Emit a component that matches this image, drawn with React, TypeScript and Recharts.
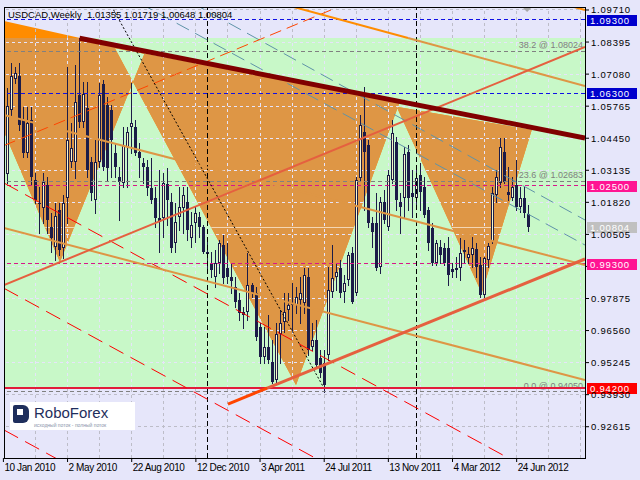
import React from 'react';
import { ComposedChart, XAxis, YAxis, Bar, Scatter, ReferenceLine, ReferenceArea, ReferenceDot } from 'recharts';

// ---------------- data ----------------
const OPEN = [1.0312,1.0298,1.0561,1.0687,1.07,1.052,1.0386,1.052,1.0274,1.018,1.0157,1.0253,1.0082,1.0,1.0151,0.9993,1.0198,1.0349,1.0349,1.0622,1.0513,1.0568,1.0349,1.0192,1.0349,1.0667,1.0581,1.0561,1.0383,1.0287,1.026,1.041,1.0492,1.0492,1.039,1.0342,1.0328,1.0239,1.0198,1.0116,1.0116,1.0257,1.0185,1.0014,1.0123,1.0157,1.0185,1.0034,1.0096,1.0123,1.0082,0.998,0.9932,0.9877,0.9932,1.0007,0.9911,0.9877,0.9836,0.9781,0.9733,0.9733,0.9843,0.9809,0.9672,0.9549,0.959,0.9528,0.9453,0.964,0.9692,0.974,0.9761,0.9761,0.9781,0.9768,0.9877,0.959,0.9617,0.9542,0.9522,0.9556,0.9815,0.9877,0.9911,0.9815,0.9863,0.9973,0.9809,1.028,1.0472,1.0417,1.0096,1.0096,0.9918,1.0185,1.0082,1.0274,1.0431,1.0185,1.0198,1.039,1.0222,1.0198,1.0294,1.0246,1.0151,1.0075,0.9932,1.0,0.9993,0.9993,0.9907,0.9904,0.9911,0.9986,0.9955,0.9966,0.9989,0.9925,0.9802,0.9945,1.0021,1.0212,1.026,1.039,1.0226,1.0198,1.0253,1.0164,1.0198,1.01355];
const HIGH = [1.0342,1.065,1.0752,1.0739,1.0752,1.0574,1.0574,1.0574,1.0301,1.0246,1.0301,1.0287,1.0137,1.0178,1.0178,1.0212,1.0739,1.0506,1.0745,1.0855,1.0677,1.0677,1.0369,1.0438,1.067,1.0684,1.0615,1.0581,1.0424,1.0328,1.0492,1.0492,1.067,1.052,1.0424,1.0362,1.0356,1.0362,1.0246,1.0315,1.0301,1.0321,1.0219,1.0178,1.0246,1.0246,1.0246,1.0144,1.0164,1.0144,1.009,1.0027,0.998,0.9986,1.0027,1.0048,1.0014,0.9932,0.9877,0.9809,0.9754,0.9973,0.985,0.9836,0.9686,0.9672,0.972,0.9617,0.9686,0.974,0.9809,0.9809,0.985,0.9836,0.9877,0.9911,0.9911,0.9686,0.9699,0.9576,0.9576,0.9918,1.0007,0.9932,0.9945,0.9884,0.998,1.0,1.0287,1.054,1.0656,1.0438,1.0123,1.0219,1.0205,1.0233,1.0315,1.052,1.0451,1.0219,1.041,1.0417,1.0315,1.0315,1.0342,1.0287,1.0164,1.0096,1.0027,1.0027,1.0014,1.0041,0.9932,0.9959,1.0034,1.0027,1.0,1.0041,1.0014,0.9959,0.9959,1.0014,1.0246,1.0315,1.0444,1.0444,1.0328,1.0287,1.0356,1.0246,1.0246,1.01719];
const LOW = [1.026,1.026,1.054,1.067,1.0479,1.0369,1.0369,1.0257,1.0178,1.0055,1.0096,1.0055,0.998,0.9945,0.9966,0.9952,1.0096,1.0328,1.028,1.0492,1.0492,1.0287,1.0192,1.0137,1.0328,1.0315,1.0274,1.0287,1.0287,1.0109,1.0246,1.0246,1.0383,1.0376,1.0287,1.026,1.0212,1.0178,1.0082,0.998,1.0041,1.0089,0.998,0.998,1.0068,1.0055,1.0027,1.0,1.0021,1.0041,0.9973,0.9904,0.9877,0.9836,0.9891,0.985,0.985,0.9809,0.9754,0.9699,0.9665,0.9699,0.9795,0.9617,0.9522,0.9522,0.9522,0.9439,0.9439,0.9522,0.9651,0.9699,0.9658,0.9727,0.9686,0.9727,0.9556,0.9576,0.9508,0.9467,0.9405,0.9535,0.9795,0.9822,0.9795,0.9774,0.9843,0.977,0.9802,1.0274,1.0151,1.0082,1.0,0.9904,0.9891,1.0096,1.0068,1.026,1.0151,1.0055,1.0123,1.0151,1.0123,1.0164,1.0151,1.0123,0.9986,0.9925,0.9925,0.9932,0.9925,0.9843,0.9877,0.9877,0.9863,0.9932,0.9932,0.9918,0.9877,0.9795,0.9795,0.9918,1.0014,1.0185,1.0246,1.026,1.0192,1.0192,1.0151,1.0144,1.0123,1.00648];
const CLOSE = [1.0287,1.0577,1.07,1.0714,1.0499,1.0386,1.0509,1.0287,1.0192,1.0175,1.0267,1.0109,1.0034,1.0126,0.9986,1.0178,1.0438,1.0403,1.0595,1.0513,1.0626,1.0315,1.0219,1.0349,1.0622,1.0328,1.0321,1.0438,1.0328,1.0267,1.0417,1.0472,1.0509,1.0383,1.0362,1.0326,1.0239,1.0192,1.0116,1.01,1.026,1.0192,0.9993,1.0103,1.0164,1.0212,1.0068,1.0089,1.0137,1.0082,0.998,0.997,0.9904,0.9932,1.0014,0.987,0.9877,0.986,0.9774,0.9727,0.972,0.9843,0.9809,0.9631,0.9549,0.959,0.9535,0.9446,0.964,0.9686,0.9733,0.9761,0.9765,0.9795,0.9809,0.9884,0.9576,0.9617,0.9515,0.948,0.9433,0.9822,0.987,0.9898,0.9809,0.985,0.9966,0.9774,1.0274,1.0499,1.039,1.0096,1.0062,0.9911,1.0185,1.0109,1.0294,1.0465,1.0192,1.0164,1.038,1.0198,1.0205,1.028,1.0226,1.013,1.0014,0.9932,1.0014,0.9966,0.9932,0.9884,0.9898,0.9911,0.9973,0.998,0.9969,0.9993,0.9915,0.9802,0.9955,1.0003,1.0219,1.0287,1.0408,1.0267,1.0212,1.0246,1.0164,1.0198,1.0137,1.00804];

const X_TICKS = [0, 16, 32, 48, 64, 80, 96, 112, 128];
const X_LABELS = ['10 Jan 2010', '2 May 2010', '22 Aug 2010', '12 Dec 2010', '3 Apr 2011', '24 Jul 2011', '13 Nov 2011', '4 Mar 2012', '24 Jun 2012'];
const Y_TICKS = [1.0971, 1.08395, 1.0708, 1.05765, 1.0445, 1.03135, 1.0182, 1.00505, 0.9919, 0.97875, 0.9656, 0.95245, 0.9393, 0.92615];
const Y_HIDDEN_LABELS = [0.9919]; // covered by the 0.99300 price box in the original
const GRID_X = [8, 16, 24, 32, 40, 48, 56, 64, 72, 80, 88, 96, 104, 112, 120, 128, 136, 144];

const X_MIN = 0.15;
const X_MAX = 145.04;
const Y_MIN = 0.91332;
const Y_MAX = 1.09833;

const ZONE = [1.0856, 0.942]; // green zone top / bottom
const BID = 1.00804;
const LAST_HEADER = ['USDCAD,Weekly', '1.01355', '1.01719', '1.00648', '1.00804'];

// triangle vertices [week, price]
const TRIANGLE_1 = [[-13.0, 1.09743], [14.1, 0.99372], [35.3, 1.07962]];
const TRIANGLE_2 = [[27.8, 1.08139], [72.97, 0.94326], [98.9, 1.05965]];
const TRIANGLE_3 = [[98.07, 1.05743], [119.28, 0.981], [131.75, 1.04787]];

// trend line anchors [week, price]
const NECKLINE = [[19, 1.0855], [145.04, 1.0446]];
const ORANGE_TOP = [[70, 1.0994], [145.04, 1.0659]];
const ORANGE_TOP_2 = [[141.5, 1.0987], [145.04, 1.0971]];
const ORANGE_A = [[0.15, 1.054], [145.04, 0.99249]];
const ORANGE_B = [[0.15, 1.00767], [145.04, 0.94531]];
const TOMATO_1 = [[0.15, 0.98428], [145.04, 1.08192]];
const TOMATO_2 = [[56, 0.93546], [145.04, 0.99495]];
const ORANGERED_DASH = [[0.15, 1.0415], [88, 1.1014]];
const RED_D1 = [[0.15, 1.02613], [127, 0.91234]];
const RED_D2 = [[0.15, 0.98293], [79, 0.9122]];
const RED_D3 = [[0.15, 0.9248], [14, 0.91238]];
const TEAL_1 = [[47, 1.1001], [145.04, 1.01095]];
const TEAL_2 = [[34, 1.0999], [145.04, 1.00069]];
const BLACK_DOTTED = [[26, 1.1015], [79.8, 0.9424]];
const V_LINES = [51, 103];

const BLUE_LEVELS = [1.093, 1.063];
const PINK_LEVELS = [1.025, 0.993];
const RED_LEVELS = [0.942];
const FIB_LEVELS = [1.08024, 1.02683, 0.9405];
const FIB_NAMES = ['38.2', '23.6', '0.0'];

// ---------------- styles ----------------
const FONT = '"Liberation Sans", Arial, sans-serif';
const BG = '#E6E6FA';
const GREEN = '#C8F8C8';
const ORANGE = '#FF8C00';
const SANDY = '#DE9645';
const GRID_DARK = '#BDBDC8';
const GRID_LIGHT = '#E6E4FA';
const WICK = '#1C1C48';
const BULL = '#F8F6CC';
const BEAR = '#1C1C48';
const BLUE = '#1010E6';

const candles = OPEN.map((o, i) => ({ i, o, h: HIGH[i], l: LOW[i], c: CLOSE[i], range: [LOW[i], HIGH[i]] }));

const shapePoints = [
  { i: X_MIN, v: ZONE[0] },
  { i: X_MAX, v: ZONE[1] },
  ...[TRIANGLE_1, TRIANGLE_2, TRIANGLE_3].flat().map((p) => ({ i: p[0], v: p[1] })),
  { i: X_MIN, v: BID },
];

function renderShapes(props: any) {
  const pts = props.points as { x: number; y: number }[];
  if (!pts || pts.length < 12) return <g />;
  const a = pts[0];
  const b = pts[1];
  const rx = Math.min(a.x, b.x);
  const ry = Math.round(Math.min(a.y, b.y));
  const rw = Math.abs(b.x - a.x);
  const rh = Math.round(Math.max(a.y, b.y)) - ry;
  let d = '';
  for (let k = 0; k < 3; k++) {
    const t = pts.slice(2 + 3 * k, 5 + 3 * k);
    d += `M${t[0].x},${t[0].y}L${t[1].x},${t[1].y}L${t[2].x},${t[2].y}Z`;
  }
  const by = Math.round(pts[11].y) + 0.5;
  return (
    <g>
      <defs>
        <clipPath id="zoneClip">
          <rect x={rx} y={ry} width={rw} height={rh} />
        </clipPath>
        <clipPath id="triClip">
          <path d={d} clipRule="evenodd" />
        </clipPath>
      </defs>
      <rect x={rx} y={ry} width={rw} height={rh} fill={GREEN} />
      <path d={d} fill={ORANGE} fillRule="evenodd" />
      <path d={d} fill={SANDY} fillRule="evenodd" clipPath="url(#zoneClip)" />
      <line x1={rx} x2={rx + rw} y1={by} y2={by} stroke="#F4D6B4" strokeWidth={1} clipPath="url(#triClip)" />
    </g>
  );
}

function Candle(props: any) {
  const { x, y, width, height, payload } = props;
  if (x == null || y == null || !payload) return <g />;
  const { o, h, l, c } = payload;
  const span = h - l;
  const py = (v: number) => (span > 0 ? y + ((h - v) / span) * height : y);
  const cx = Math.floor(x + width / 2) + 0.5;
  const yt = Math.round(py(Math.max(o, c)));
  const yb = Math.round(py(Math.min(o, c)));
  const bull = c >= o;
  return (
    <g shapeRendering="crispEdges">
      <line x1={cx} x2={cx} y1={Math.round(y)} y2={Math.round(y + height) + 1} stroke={WICK} />
      {yb - yt >= 2 ? (
        <rect x={cx - 1} y={yt + 0.5} width={2} height={yb - yt - 1} fill={bull ? BULL : BEAR} stroke={WICK} />
      ) : (
        <line x1={cx - 1.5} x2={cx + 1.5} y1={yt + 0.5} y2={yt + 0.5} stroke={WICK} />
      )}
    </g>
  );
}

const XTick = (p: any) => {
  const idx = X_TICKS.indexOf(p.payload.value);
  return (
    <text x={p.x + 1} y={p.y + 7} fontSize={10} letterSpacing={-0.4} fill="#000" textAnchor="start" fontFamily={FONT}>
      {X_LABELS[idx]}
    </text>
  );
};

const YTick = (p: any) => {
  const v = Number(p.payload.value);
  if (Y_HIDDEN_LABELS.includes(v)) return <g />;
  return (
    <text x={p.x} y={p.y + 3.5} fontSize={9.5} letterSpacing={0.8} fill="#000" textAnchor="start" fontFamily={FONT}>
      {v.toFixed(5)}
    </text>
  );
};

const priceBox = (value: number, bg: string) => (props: any) => {
  const vb = props.viewBox;
  if (!vb) return <g />;
  const x = vb.x + vb.width + 2;
  const y = Math.round(vb.y);
  return (
    <g>
      <rect x={x} y={y - 5} width={50} height={11} fill={bg} />
      <text x={x + 3} y={y + 4} fill="#FFFFFF" fontSize={9.5} letterSpacing={0.8} fontFamily={FONT}>
        {value.toFixed(5)}
      </text>
    </g>
  );
};

const fibLabel = (name: string, value: number) => (props: any) => {
  const vb = props.viewBox;
  if (!vb) return <g />;
  return (
    <text x={vb.x + vb.width - 2} y={vb.y - 3} fill="#808080" fontSize={9} textAnchor="end" fontFamily={FONT}>
      {`${name} @ ${value.toFixed(5)}`}
    </text>
  );
};

const splitAt = (a: number[][], level: number) => {
  const t = (level - a[0][1]) / (a[1][1] - a[0][1]);
  const m = [a[0][0] + t * (a[1][0] - a[0][0]), level];
  return [[a[0], m], [m, a[1]]];
};

const seg = (a: number[][], key: string, style: any) => (
  <ReferenceLine
    key={key}
    segment={[{ x: a[0][0], y: a[0][1] }, { x: a[1][0], y: a[1][1] }]}
    ifOverflow="hidden"
    zIndex={40}
    {...style}
  />
);

export default function App() {
  const inZone = (v: number) => v <= ZONE[0] && v >= ZONE[1];
  const tomato2 = splitAt(TOMATO_2, ZONE[1]);
  const orangeTop = splitAt(ORANGE_TOP, ZONE[0]);

  return (
    <div style={{ position: 'absolute', left: 0, top: 0, width: 640, height: 480, background: BG, overflow: 'hidden' }}>
      <ComposedChart width={640} height={480} data={candles} margin={{ top: 7, right: 0, bottom: 0, left: 4 }}>
        <XAxis
          dataKey="i"
          type="number"
          domain={[X_MIN, X_MAX]}
          allowDataOverflow
          ticks={X_TICKS}
          interval={0}
          height={22}
          axisLine={false}
          tickLine={{ stroke: '#000' }}
          tickSize={4}
          tick={<XTick />}
        />
        <YAxis
          orientation="right"
          type="number"
          domain={[Y_MIN, Y_MAX]}
          allowDataOverflow
          ticks={Y_TICKS}
          interval={0}
          width={55}
          axisLine={false}
          tickLine={{ stroke: '#000' }}
          tickSize={4}
          tick={<YTick />}
        />

        <Scatter
          data={shapePoints}
          dataKey="v"
          line={renderShapes}
          shape={() => <g />}
          isAnimationActive={false}
          legendType="none"
          zIndex={10}
        />

        {Y_TICKS.map((v) => (
          <ReferenceLine
            key={`gh${v}`}
            y={v}
            stroke={inZone(v) ? GRID_LIGHT : GRID_DARK}
            strokeDasharray="3 3"
            shapeRendering="crispEdges"
            zIndex={20}
          />
        ))}
        {GRID_X.map((k) => [
          <ReferenceLine key={`gv1${k}`} segment={[{ x: k, y: Y_MIN }, { x: k, y: ZONE[1] }]} stroke={GRID_DARK} strokeDasharray="3 3" shapeRendering="crispEdges" ifOverflow="hidden" zIndex={20} />,
          <ReferenceLine key={`gv2${k}`} segment={[{ x: k, y: ZONE[1] }, { x: k, y: ZONE[0] }]} stroke={GRID_LIGHT} strokeDasharray="3 3" shapeRendering="crispEdges" ifOverflow="hidden" zIndex={20} />,
          <ReferenceLine key={`gv3${k}`} segment={[{ x: k, y: ZONE[0] }, { x: k, y: Y_MAX }]} stroke={GRID_DARK} strokeDasharray="3 3" shapeRendering="crispEdges" ifOverflow="hidden" zIndex={20} />,
        ])}

        <Bar dataKey="range" barSize={3} shape={(p: any) => <Candle {...p} />} isAnimationActive={false} zIndex={30} />

        {FIB_LEVELS.map((v, k) => (
          <ReferenceLine key={`fib${v}`} y={v} stroke="#808080" strokeDasharray="4 3" shapeRendering="crispEdges" label={fibLabel(FIB_NAMES[k], v)} zIndex={40} />
        ))}
        {BLUE_LEVELS.map((v) => (
          <ReferenceLine key={`bl${v}`} y={v} stroke={BLUE} strokeDasharray="4 3" shapeRendering="crispEdges" zIndex={40} />
        ))}
        {PINK_LEVELS.map((v) => (
          <ReferenceLine key={`pk${v}`} y={v} stroke="#D8168C" strokeDasharray="4 3" shapeRendering="crispEdges" zIndex={40} />
        ))}
        {RED_LEVELS.map((v) => (
          <ReferenceLine key={`rd${v}`} y={v} stroke="#E21C3A" strokeWidth={2} zIndex={40} />
        ))}
        {V_LINES.map((k) => (
          <ReferenceLine key={`vl${k}`} x={k} stroke="#000" strokeDasharray="5 3" shapeRendering="crispEdges" zIndex={40} />
        ))}

        {seg(TEAL_1, 'teal1', { stroke: '#5F93A8', strokeDasharray: '14 7' })}
        {seg(TEAL_2, 'teal2', { stroke: '#5F93A8', strokeDasharray: '14 7' })}
        {seg(RED_D1, 'rd1', { stroke: '#FF0000', strokeDasharray: '16 8' })}
        {seg(RED_D2, 'rd2', { stroke: '#FF0000', strokeDasharray: '16 8' })}
        {seg(RED_D3, 'rd3', { stroke: '#FF0000', strokeDasharray: '16 8' })}
        {seg(ORANGERED_DASH, 'ord', { stroke: '#FF4500', strokeDasharray: '12 6' })}
        {seg(BLACK_DOTTED, 'bdot', { stroke: '#000', strokeDasharray: '2 2' })}
        {seg(ORANGE_A, 'oa', { stroke: SANDY, strokeWidth: 2 })}
        {seg(ORANGE_B, 'ob', { stroke: SANDY, strokeWidth: 2 })}
        {seg(orangeTop[0], 'ot1', { stroke: ORANGE, strokeWidth: 2 })}
        {seg(orangeTop[1], 'ot2', { stroke: SANDY, strokeWidth: 2 })}
        {seg(ORANGE_TOP_2, 'ot3', { stroke: ORANGE, strokeWidth: 2 })}
        {seg(TOMATO_1, 't1', { stroke: '#E5603F', strokeWidth: 2 })}
        {seg(tomato2[0], 't2a', { stroke: '#FF4500', strokeWidth: 3 })}
        {seg(tomato2[1], 't2b', { stroke: '#E5603F', strokeWidth: 3 })}
        {seg(NECKLINE, 'neck', { stroke: '#800000', strokeWidth: 5 })}

        {BLUE_LEVELS.map((v) => (
          <ReferenceLine key={`blb${v}`} y={v} stroke="none" strokeOpacity={0} label={priceBox(v, '#0000CD')} zIndex={600} />
        ))}
        {PINK_LEVELS.map((v) => (
          <ReferenceLine key={`pkb${v}`} y={v} stroke="none" strokeOpacity={0} label={priceBox(v, '#FF1493')} zIndex={600} />
        ))}
        {RED_LEVELS.map((v) => (
          <ReferenceLine key={`rdb${v}`} y={v} stroke="none" strokeOpacity={0} label={priceBox(v, '#FF0000')} zIndex={600} />
        ))}
        <ReferenceLine y={BID} stroke="none" strokeOpacity={0} label={priceBox(BID, '#C0C0C0')} zIndex={600} />

        <ReferenceArea
          x1={X_MIN}
          x2={X_MAX}
          y1={Y_MIN}
          y2={Y_MAX}
          fill="none"
          stroke="#000"
          strokeWidth={1}
          shapeRendering="crispEdges"
          ifOverflow="visible"
          zIndex={700}
        />
        <ReferenceDot
          x={130.6}
          y={Y_MAX}
          r={4}
          ifOverflow="visible"
          zIndex={700}
          shape={(p: any) => <path d={`M${p.cx - 4},${p.cy + 1}L${p.cx + 4},${p.cy + 1}L${p.cx},${p.cy + 5}Z`} fill="#A8A8A8" />}
        />
      </ComposedChart>

      <div
        style={{
          position: 'absolute',
          left: 8,
          top: 10,
          fontFamily: FONT,
          fontSize: 9.5,
          lineHeight: '10px',
          whiteSpace: 'pre',
          color: '#000',
        }}
      >
        {`${LAST_HEADER[0]}  ${LAST_HEADER.slice(1).join(' ')}`}
      </div>

      <div style={{ position: 'absolute', left: 10, top: 402, width: 125, height: 28, background: '#FFFFFF' }}>
        <div style={{ position: 'absolute', left: 3, top: 3, width: 16, height: 18, background: '#1E2E5C', borderRadius: '2px 6px 6px 2px' }} />
        <div style={{ position: 'absolute', left: 7, top: 7, width: 6, height: 6, background: '#FFFFFF' }} />
        <div
          style={{
            position: 'absolute',
            left: 24,
            top: 3,
            fontFamily: FONT,
            fontSize: 15,
            lineHeight: '16px',
            color: '#1E2E5C',
            whiteSpace: 'pre',
          }}
        >
          RoboForex
        </div>
        <div
          style={{
            position: 'absolute',
            left: 24,
            top: 20,
            fontFamily: FONT,
            fontSize: 5,
            lineHeight: '6px',
            color: '#8A94AA',
            whiteSpace: 'pre',
          }}
        >
          исходный поток - полный поток
        </div>
      </div>
    </div>
  );
}
